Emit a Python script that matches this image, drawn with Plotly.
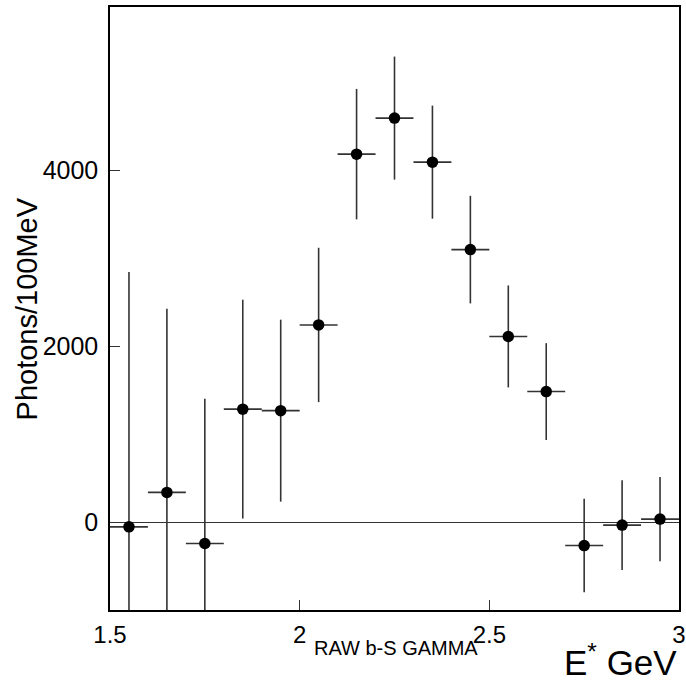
import plotly.graph_objects as go

energy = [1.55, 1.65, 1.75, 1.85, 1.95, 2.05, 2.15, 2.25, 2.35, 2.45, 2.55, 2.65, 2.75, 2.85, 2.95]
photons = [-54, 338, -244, 1285, 1268, 2243, 4186, 4596, 4095, 3100, 2112, 1485, -267, -34, 34]
errors = [2900, 2090, 1646, 1245, 1035, 878, 742, 700, 643, 612, 580, 551, 532, 510, 480]
bin_half_width = [0.05] * len(energy)

x_ticks = [1.5, 2, 2.5, 3]
x_tick_labels = ["1.5", "2", "2.5", "3"]
y_ticks = [0, 2000, 4000]
y_tick_labels = ["0", "2000", "4000"]

FONT = "Liberation Sans, Arial, Helvetica, sans-serif"

fig = go.Figure()
fig.add_trace(go.Scatter(
    x=energy, y=photons, mode="markers",
    marker=dict(color="black", size=11.5),
    error_x=dict(type="data", array=bin_half_width, width=0, thickness=1.6, color="#333"),
    error_y=dict(type="data", array=errors, width=0, thickness=1.6, color="#333"),
    showlegend=False,
))

fig.update_layout(
    width=686, height=681,
    margin=dict(l=110, r=7, t=7, b=71, autoexpand=False),
    paper_bgcolor="white", plot_bgcolor="white",
    font=dict(family=FONT, color="black"),
    xaxis=dict(
        range=[1.5, 3], tickvals=x_ticks, ticktext=x_tick_labels,
        ticks="inside", ticklen=10, tickwidth=1, tickcolor="#333",
        showline=True, linecolor="black", linewidth=1.5, mirror=True,
        showgrid=False, zeroline=False, tickfont=dict(size=24),
        ticklabelstandoff=2, automargin=False,
    ),
    yaxis=dict(
        range=[-1000, 5860], tickvals=y_ticks, ticktext=y_tick_labels,
        ticks="inside", ticklen=10, tickwidth=1, tickcolor="#333",
        showline=True, linecolor="black", linewidth=1.5, mirror=True,
        showgrid=False, zeroline=True, zerolinecolor="#333", zerolinewidth=1,
        tickfont=dict(size=25), ticklabelstandoff=5, automargin=False,
    ),
    annotations=[
        dict(text="Photons/100MeV", x=-0.146, y=0.5, xref="paper", yref="paper",
             xanchor="center", yanchor="middle", textangle=-90, showarrow=False,
             font=dict(size=29)),
        dict(text="RAW b-S GAMMA", x=0.502, y=-0.063, xref="paper", yref="paper",
             xanchor="center", yanchor="middle", showarrow=False,
             font=dict(size=20)),
        dict(text="E<sup>*</sup> GeV", x=1.0, y=-0.083, xref="paper", yref="paper",
             xanchor="right", yanchor="middle", showarrow=False,
             font=dict(size=35)),
    ],
)

post = (
    "document.documentElement.style.margin='0';"
    "document.documentElement.style.overflow='hidden';"
    "document.body.style.margin='0';document.body.style.padding='0';"
    "document.body.style.overflow='hidden';"
)
fig.write_html("out.html", post_script=post,
               config={"displayModeBar": False, "responsive": False})
